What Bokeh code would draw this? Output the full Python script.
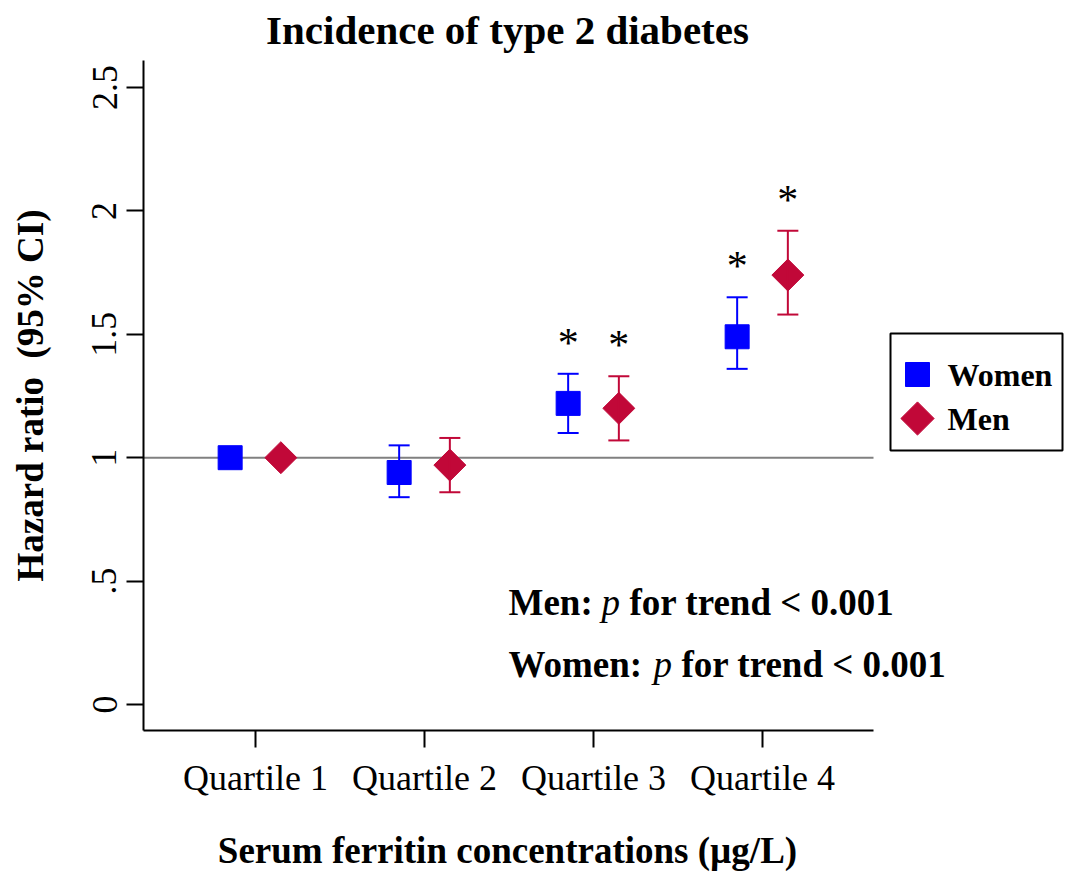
import numpy as np
from bokeh.plotting import figure
from bokeh.models import ColumnDataSource, Whisker, FixedTicker, TeeHead
from bokeh.core.properties import value
from bokeh.embed import file_html
from bokeh.resources import INLINE

# ---------------- data ----------------
quartiles = ["Quartile 1", "Quartile 2", "Quartile 3", "Quartile 4"]
women_hr = [1.00, 0.94, 1.22, 1.49]
women_lo = [None, 0.84, 1.10, 1.36]
women_hi = [None, 1.05, 1.34, 1.65]
women_sig = [False, False, True, True]
men_hr = [1.00, 0.97, 1.20, 1.74]
men_lo = [None, 0.86, 1.07, 1.58]
men_hi = [None, 1.08, 1.33, 1.92]
men_sig = [False, False, True, True]
y_ticks = [0, 0.5, 1, 1.5, 2, 2.5]
y_tick_labels = ["0", ".5", "1", "1.5", "2", "2.5"]
reference_hr = 1.0
series_names = ["Women", "Men"]
trend_lines = [("Men:", "for trend < 0.001"), ("Women:", "for trend < 0.001")]

TITLE = "Incidence of type 2 diabetes"
XLABEL = "Serum ferritin concentrations (µg/L)"
YLABEL = "Hazard ratio \u00a0(95% CI)"

# ---------------- layout / style ----------------
FONT = "Liberation Serif"
BLUE = "#0000FF"
CRIM = "#C10838"
DODGE = 0.15
W, H = 1065, 874          # canvas size
PPU_X, PPU_Y = 169.0, 246.8
CAT1_CX, ZERO_CY = 255.0, 704.0   # canvas position of category 1 and of y = 0

X_START = 1 - CAT1_CX / PPU_X
X_END = 1 + (W - CAT1_CX) / PPU_X
Y_START = -(H - ZERO_CY) / PPU_Y
Y_END = ZERO_CY / PPU_Y


def dx(cx):  # canvas x pixel -> data x
    return X_START + cx / PPU_X


def dy(cy):  # canvas y pixel -> data y
    return Y_START + (H - cy) / PPU_Y


AX_X0, AX_X1 = dx(143), dx(873)     # plotting area bounds
AX_Y0, AX_Y1 = dy(730), dy(60)

pos = np.arange(1, len(quartiles) + 1)

p = figure(width=W, height=H, x_range=(X_START, X_END), y_range=(Y_START, Y_END),
           output_backend="svg", toolbar_location=None, title=None,
           min_border=0, min_border_left=0, min_border_right=0,
           min_border_top=0, min_border_bottom=0)
p.xgrid.visible = False
p.ygrid.visible = False
p.outline_line_color = None
p.background_fill_color = "white"
p.border_fill_color = "white"

# reference line at HR = 1
p.segment(x0=[AX_X0], x1=[AX_X1], y0=[reference_hr], y1=[reference_hr],
          line_color="#808080", line_width=2)


def series(hr, lo, hi, sig, offset, color, marker_kw):
    xs = pos + offset
    idx = [i for i in range(len(hr)) if lo[i] is not None]
    wsrc = ColumnDataSource(dict(x=[xs[i] for i in idx], lo=[lo[i] for i in idx],
                                 hi=[hi[i] for i in idx]))
    w = Whisker(base="x", lower="lo", upper="hi", source=wsrc, line_color=color,
                line_width=2, level="glyph",
                upper_head=TeeHead(size=21, line_color=color, line_width=2),
                lower_head=TeeHead(size=21, line_color=color, line_width=2))
    p.add_layout(w)
    src = ColumnDataSource(dict(x=xs, y=hr))
    p.scatter(x="x", y="y", source=src, color=color, **marker_kw)
    sidx = [i for i in range(len(hr)) if sig[i]]
    ssrc = ColumnDataSource(dict(x=[xs[i] for i in sidx], y=[hi[i] for i in sidx],
                                 t=["*"] * len(sidx)))
    p.text(x="x", y="y", text="t", source=ssrc, text_align="center",
           text_baseline="alphabetic", y_offset=-31, text_font=value(FONT),
           text_font_size="42px", text_color="black")


WOMEN_MARK = dict(marker="square", size=24)
MEN_MARK = dict(marker="square", size=22.6, angle=np.pi / 4)
series(women_hr, women_lo, women_hi, women_sig, -DODGE, BLUE, WOMEN_MARK)
series(men_hr, men_lo, men_hi, men_sig, DODGE, CRIM, MEN_MARK)

# ---------------- axes ----------------
xa = p.xaxis[0]
xa.fixed_location = AX_Y0
xa.bounds = (AX_X0, AX_X1)
xa.ticker = FixedTicker(ticks=list(pos))
xa.major_label_overrides = {int(k): v for k, v in zip(pos, quartiles)}
ya = p.yaxis[0]
ya.fixed_location = AX_X0
ya.bounds = (AX_Y0, AX_Y1)
ya.ticker = FixedTicker(ticks=y_ticks)
ya.major_label_overrides = {k: v for k, v in zip(y_ticks, y_tick_labels)}
ya.major_label_orientation = "vertical"
for ax in (xa, ya):
    ax.axis_line_width = 2
    ax.axis_line_color = "black"
    ax.major_tick_line_width = 2
    ax.major_tick_line_color = "black"
    ax.major_tick_out = 17
    ax.major_tick_in = 0
    ax.minor_tick_line_color = None
    ax.major_label_text_font = FONT
    ax.major_label_text_font_size = "36px"
    ax.major_label_text_color = "black"
xa.major_label_standoff = 10
ya.major_label_standoff = 10


def txt(cx, cy, s, size, style="normal", align="left", angle=0, baseline="middle",
        x_offset=0):
    p.text(x=[dx(cx)], y=[dy(cy)], text=[s], text_font=value(FONT),
           text_font_size=size, text_font_style=style, text_align=align,
           text_baseline=baseline, angle=angle, x_offset=x_offset, text_color="black")


# title and axis titles
txt(507, 29, TITLE, "41px", "bold", "center")
txt(507, 850, XLABEL, "37px", "bold", "center")
txt(30, 395, YLABEL, "37px", "bold", "center", angle=np.pi / 2)

# trend annotations
for (lead, tail), cy in zip(trend_lines, [602, 664]):
    lead_w = 84 if lead == "Men:" else 136
    txt(508, cy, lead, "37px", "bold")
    txt(508, cy, "p", "37px", "italic", x_offset=lead_w + 9)
    txt(508, cy, tail, "37px", "bold", x_offset=lead_w + 9 + 19 + 9)

# legend (drawn by hand so the diamond keeps its orientation)
p.rect(x=[dx(976)], y=[dy(391.5)], width=172, height=117, width_units="screen",
       height_units="screen", fill_color="white", line_color="black", line_width=2)
for name, cy, color, mk in zip(series_names, [374, 418], [BLUE, CRIM],
                               [WOMEN_MARK, dict(MEN_MARK, size=23.5)]):
    p.scatter(x=[dx(917)], y=[dy(cy)], color=color, **mk)
    txt(947, cy, name, "32px", "bold")

open("out.html", "w").write(file_html(p, INLINE))
